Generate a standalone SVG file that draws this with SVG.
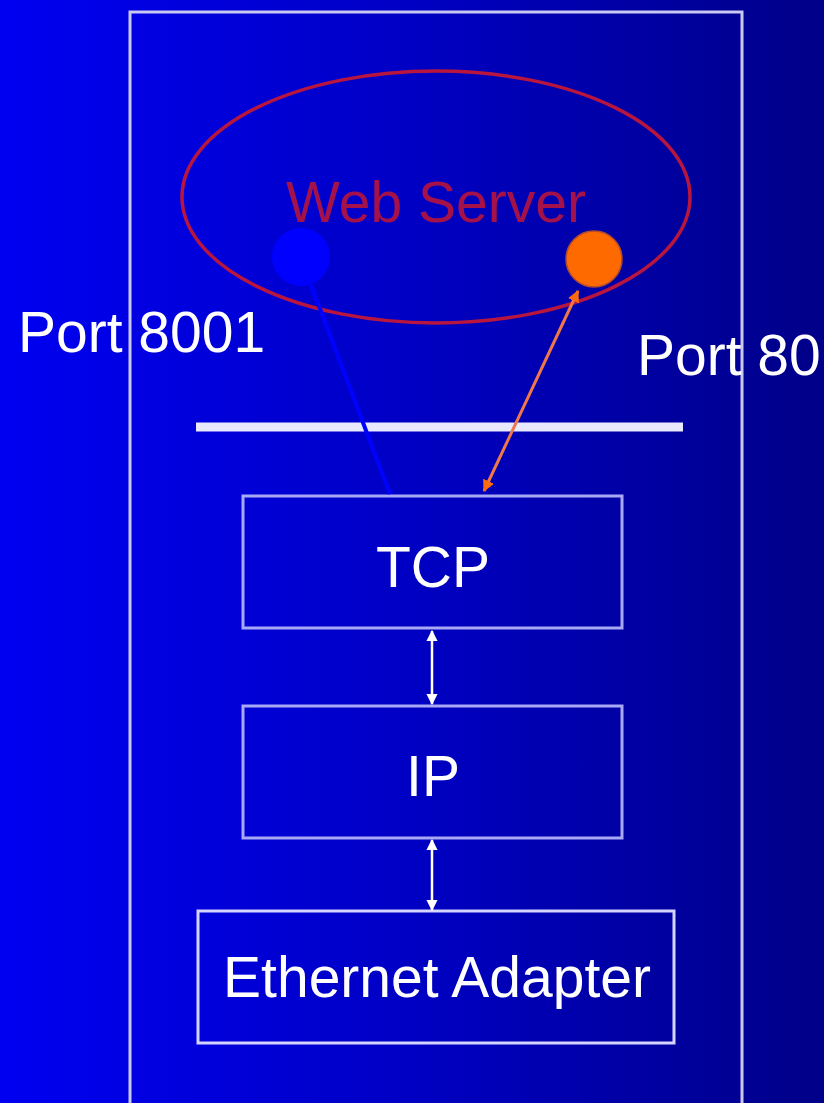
<svg xmlns="http://www.w3.org/2000/svg" width="824" height="1103" viewBox="0 0 824 1103">
  <defs>
    <linearGradient id="bg" x1="0" y1="0" x2="1" y2="0">
      <stop offset="0" stop-color="#0000f2"/>
      <stop offset="0.5" stop-color="#0000c4"/>
      <stop offset="1" stop-color="#000088"/>
    </linearGradient>
    <marker id="wa" viewBox="0 0 10 10" refX="9" refY="5" markerWidth="4.5" markerHeight="4.5" orient="auto-start-reverse" markerUnits="strokeWidth">
      <path d="M0,0 L10,5 L0,10 z" fill="#ffffff"/>
    </marker>
    <marker id="oa" viewBox="0 0 10 10" refX="9" refY="5" markerWidth="4" markerHeight="4" orient="auto-start-reverse" markerUnits="strokeWidth">
      <path d="M0,0 L10,5 L0,10 z" fill="#ff6a10"/>
    </marker>
  </defs>
  <style>
    .box { fill: none; stroke: #a8a8f4; stroke-width: 3; }
    .lbl { font-family: "Liberation Sans", Arial, sans-serif; font-size: 57px; fill: #ffffff; }
    .mid { text-anchor: middle; }
  </style>
  <rect x="0" y="0" width="824" height="1103" fill="url(#bg)"/>
  <rect id="frame" x="130" y="12" width="612" height="1110" fill="none" stroke="#c8c8f2" stroke-width="3"/>

  <g id="webserver">
    <ellipse cx="436" cy="197" rx="254" ry="126" fill="none" stroke="#b8163e" stroke-width="3.5"/>
    <text x="436" y="222" class="lbl mid" style="fill:#a5124a">Web Server</text>
  </g>
  <g id="port8001-dot"><circle cx="301" cy="257" r="29" fill="#0000ff"/></g>
  <g id="port80-dot"><circle cx="594" cy="259" r="28" fill="#ff6a00" stroke="#b04a30" stroke-width="1.5"/></g>

  <g id="port8001-label"><text x="18" y="352" class="lbl">Port 8001</text></g>
  <g id="port80-label"><text x="637" y="375" class="lbl">Port 80</text></g>

  <g id="divider"><line x1="196" y1="427" x2="683" y2="427" stroke="#e8e8ff" stroke-width="9"/></g>

  <g id="tcp">
    <rect x="243" y="496" width="379" height="132" class="box"/>
    <text x="433" y="587" class="lbl mid">TCP</text>
  </g>
  <g id="ip">
    <rect x="243" y="706" width="379" height="132" class="box"/>
    <text x="433" y="796" class="lbl mid">IP</text>
  </g>
  <g id="ethernet">
    <rect x="198" y="911" width="476" height="132" class="box" style="stroke:#d4d4ff"/>
    <text x="437" y="997" class="lbl mid">Ethernet Adapter</text>
  </g>

  <g id="connectors">
    <line x1="311" y1="285" x2="390" y2="494" stroke="#0000ff" stroke-width="4"/>
    <line x1="578" y1="291" x2="484" y2="491" stroke="#f07848" stroke-width="3" marker-start="url(#oa)" marker-end="url(#oa)"/>
    <line x1="432" y1="631" x2="432" y2="704" stroke="#ffffff" stroke-width="2.5" marker-start="url(#wa)" marker-end="url(#wa)"/>
    <line x1="432" y1="840" x2="432" y2="910" stroke="#ffffff" stroke-width="2.5" marker-start="url(#wa)" marker-end="url(#wa)"/>
  </g>
</svg>
